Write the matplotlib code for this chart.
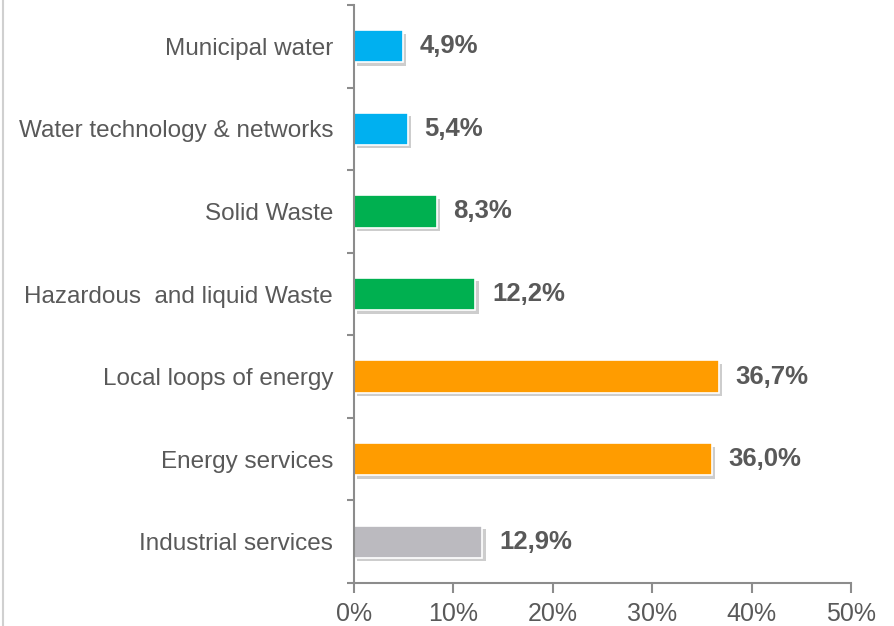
import matplotlib
matplotlib.use("Agg")
import matplotlib.pyplot as plt
import matplotlib.patheffects as pe
from matplotlib.lines import Line2D
from matplotlib.ticker import FixedLocator

categories = ["Industrial services", "Energy services", "Local loops of energy",
              "Hazardous  and liquid Waste", "Solid Waste",
              "Water technology & networks", "Municipal water"]
values = [12.9, 36.0, 36.7, 12.2, 8.3, 5.4, 4.9]
labels = ["12,9%", "36,0%", "36,7%", "12,2%", "8,3%", "5,4%", "4,9%"]
colors = ["#BBBABF", "#FF9C00", "#FF9C00", "#00B050", "#00B050", "#00B0F0", "#00B0F0"]
xticks = [0, 10, 20, 30, 40, 50]
xticklabels = ["0%", "10%", "20%", "30%", "40%", "50%"]

plt.rcParams['font.family'] = ['Liberation Sans', 'DejaVu Sans']
txt = "#595959"
axc = "#8C8C8C"

fig = plt.figure(figsize=(8.95, 6.26), dpi=100)
ax = fig.add_axes([354/895, 1-583/626, 497/895, 578/626])

y = list(range(len(categories)))
bars = ax.barh(y, values, height=0.39, color=colors, edgecolor="white", linewidth=1.2)
for b in bars:
    b.set_path_effects([pe.SimplePatchShadow(offset=(2.5, -2.5), alpha=0.35, shadow_rgbFace="#707070"), pe.Normal()])

for yi, v, lab in zip(y, values, labels):
    ax.annotate(lab, xy=(v, yi), xytext=(12, 0), textcoords="offset points",
                ha="left", va="center", fontsize=18.5, fontweight="bold", color=txt)

ax.set_xlim(0, 50)
ax.set_ylim(-0.5, len(categories) - 0.5)
ax.set_xticks(xticks)
ax.set_xticklabels(xticklabels, fontsize=18, color=txt)
ax.set_yticks(y)
ax.set_yticklabels(categories, fontsize=17.5, color=txt)
ax.tick_params(axis="y", which="major", length=0, pad=15)
ax.yaxis.set_minor_locator(FixedLocator([i - 0.5 for i in range(len(categories) + 1)]))
ax.tick_params(axis="y", which="minor", length=5, width=1.5, color=axc, direction="out")
ax.tick_params(axis="x", which="major", length=7, width=1.5, color=axc, direction="out", pad=7)

for s in ["top", "right"]:
    ax.spines[s].set_visible(False)
for s in ["left", "bottom"]:
    ax.spines[s].set_color(axc)
    ax.spines[s].set_linewidth(1.5)

fig.add_artist(Line2D([3/895, 3/895], [0, 1], transform=fig.transFigure, color="#D0D0D0", linewidth=1.5))

fig.savefig("out.png", dpi=100, facecolor="white")
